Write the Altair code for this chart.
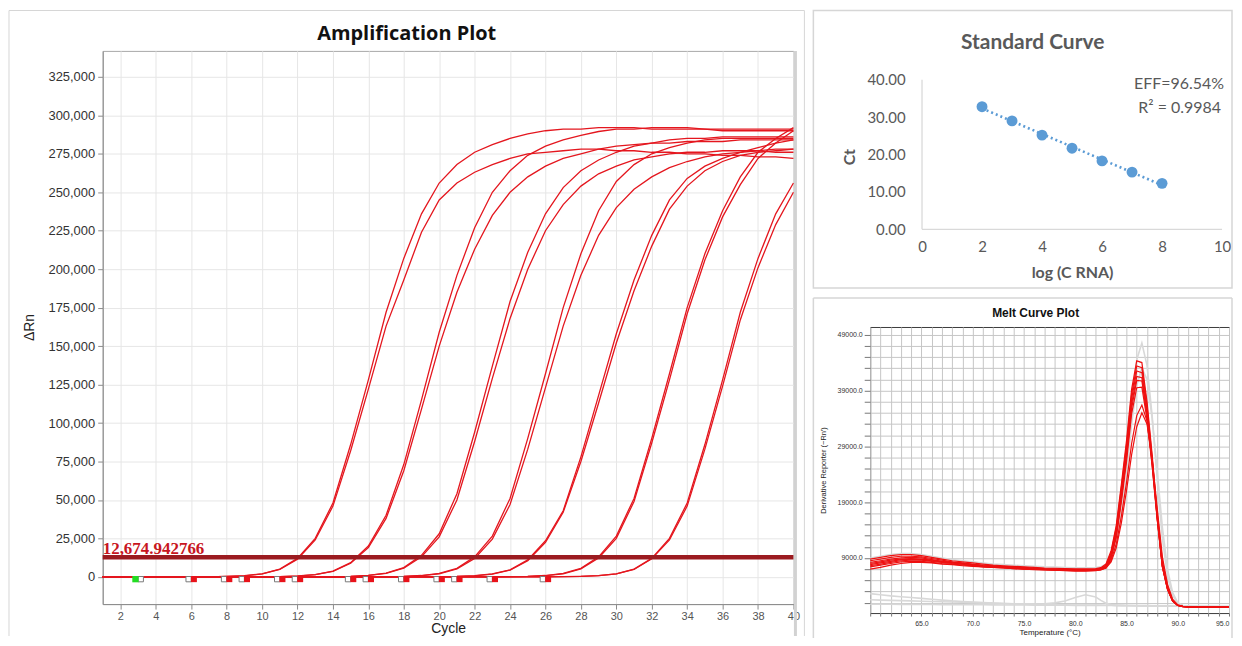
import altair as alt
import pandas as pd

# ---------------- Amplification plot: ΔRn (thousands) for cycles 1..40 ----------------
cycles = list(range(1, 41))
amp_A1 = [0, 0, 0, 0, 0, 0, 0, 0.3, 0.8, 2, 5, 12, 25, 48, 86, 128, 172, 207, 236, 256,
          268, 276, 281, 285, 288, 290, 291, 291, 292, 292, 292, 291, 291, 291, 291, 290, 290, 290, 290, 290]
amp_A2 = [0, 0, 0, 0, 0, 0, 0, 0.3, 0.7, 1.9, 4.8, 11.5, 24, 46, 82, 122, 163, 193, 224, 245,
          256, 263, 268, 272, 275, 276, 277, 278, 278, 277, 277, 276, 276, 275, 275, 274, 274, 273, 273, 272]
amp_B1 = [0, 0, 0, 0, 0, 0, 0, 0, 0, 0.1, 0.2, 0.6, 1.5, 3.8, 9.2, 20, 40, 73, 115, 159,
          196, 227, 250, 264, 274, 280, 284, 287, 289.5, 291, 291, 292, 292, 292, 291, 291, 291, 291, 291, 291]
amp_B2 = [0, 0, 0, 0, 0, 0, 0, 0, 0, 0.1, 0.2, 0.5, 1.4, 3.6, 8.8, 19, 38, 69, 109, 150,
          185, 213, 235, 250, 260, 267, 272, 275, 278, 280, 281, 282, 282, 283, 283, 283, 284, 284, 284, 284]
amp_C1 = [0, 0, 0, 0, 0, 0, 0, 0, 0, 0, 0, 0, 0, 0.1, 0.35, 0.95, 2.4, 6, 14, 28,
          54, 94, 137, 179, 211, 236, 253, 264, 271, 276, 280, 282, 284, 285, 285, 286, 286, 286, 286, 286]
amp_C2 = [0, 0, 0, 0, 0, 0, 0, 0, 0, 0, 0, 0, 0, 0.1, 0.3, 0.9, 2.2, 5.6, 13, 26,
          50, 88, 129, 168, 200, 225, 242, 254, 262, 267, 271, 273, 275, 276, 276, 277, 277, 277, 276, 276]
amp_D1 = [0, 0, 0, 0, 0, 0, 0, 0, 0, 0, 0, 0, 0, 0, 0, 0, 0.1, 0.33, 0.87, 2.2,
          5.5, 13, 26.5, 51, 90, 132, 175, 210, 238, 257, 268, 275, 279, 282, 284, 285, 285, 285, 285, 285]
amp_D2 = [0, 0, 0, 0, 0, 0, 0, 0, 0, 0, 0, 0, 0, 0, 0, 0, 0.1, 0.3, 0.8, 2.0,
          5.1, 12, 24.5, 47, 83, 123, 163, 196, 222, 240, 252, 260, 266, 270, 273, 275, 276, 277, 278, 278]
amp_E1 = [0, 0, 0, 0, 0, 0, 0, 0, 0, 0, 0, 0, 0, 0, 0, 0, 0, 0, 0, 0.1,
          0.28, 0.75, 1.9, 4.6, 11, 23.5, 43, 78, 118, 158, 193, 222, 245, 259, 267, 272, 276, 279, 282, 284]
amp_E2 = [0, 0, 0, 0, 0, 0, 0, 0, 0, 0, 0, 0, 0, 0, 0, 0, 0, 0, 0, 0.1,
          0.25, 0.7, 1.8, 4.4, 10.5, 22.5, 42, 75, 113, 152, 186, 215, 239, 254, 264, 270, 274, 276, 277, 278]
amp_F1 = [0, 0, 0, 0, 0, 0, 0, 0, 0, 0, 0, 0, 0, 0, 0, 0, 0, 0, 0, 0,
          0, 0, 0, 0.1, 0.33, 0.87, 2.2, 5.5, 13, 26.5, 51, 90, 132, 175, 210, 238, 260, 276, 285, 292]
amp_F2 = [0, 0, 0, 0, 0, 0, 0, 0, 0, 0, 0, 0, 0, 0, 0, 0, 0, 0, 0, 0,
          0, 0, 0, 0.1, 0.3, 0.8, 2.0, 5.2, 12.3, 25, 49, 87, 128, 171, 206, 234, 255, 272, 282, 290]
amp_G1 = [0, 0, 0, 0, 0, 0, 0, 0, 0, 0, 0, 0, 0, 0, 0, 0, 0, 0, 0, 0,
          0, 0, 0, 0, 0, 0, 0.1, 0.3, 0.8, 2, 5, 12, 25, 48, 86, 128, 172, 207, 236, 256]
amp_G2 = [0, 0, 0, 0, 0, 0, 0, 0, 0, 0, 0, 0, 0, 0, 0, 0, 0, 0, 0, 0,
          0, 0, 0, 0, 0, 0, 0.1, 0.3, 0.75, 1.9, 4.8, 11.7, 24, 46, 83, 124, 167, 201, 229, 250]
amp_names = ["A1", "A2", "B1", "B2", "C1", "C2", "D1", "D2", "E1", "E2", "F1", "F2", "G1", "G2"]
amp_series = [amp_A1, amp_A2, amp_B1, amp_B2, amp_C1, amp_C2, amp_D1, amp_D2,
              amp_E1, amp_E2, amp_F1, amp_F2, amp_G1, amp_G2]
threshold = 12674.942766
threshold_label = "12,674.942766"
marker_level = -1500
base_green = [2.85]
base_white = [3.15, 5.85, 7.85, 8.85, 10.85, 11.85, 14.85, 15.85, 17.85, 19.85, 20.85, 22.85, 25.85]
base_red = [6.15, 8.15, 9.15, 11.15, 12.15, 15.15, 16.15, 18.15, 20.15, 21.15, 23.15, 26.15]
amp_x_ticks = list(range(2, 41, 2))
amp_y_ticks = list(range(0, 325001, 25000))

# ---------------- Standard curve ----------------
std_logc = [2, 3, 4, 5, 6, 7, 8]
std_ct = [32.8, 29.0, 25.2, 21.7, 18.3, 15.3, 12.3]
std_x_ticks = [0, 2, 4, 6, 8, 10]
std_y_ticks = [0, 10, 20, 30, 40]

# ---------------- Melt curve ----------------
melt_temp = [60, 61, 62, 63, 64, 65, 66, 67, 68, 69, 70, 71, 72, 73, 74, 75, 76, 77, 78, 79, 80, 81, 82,
             82.5, 83, 83.5, 84, 84.5, 85, 85.5, 86, 86.5, 87, 87.5, 88, 88.5, 89, 89.5, 90, 90.5, 91,
             92, 93, 94, 95]
melt_R1 = [8800, 9100, 9400, 9600, 9600, 9400, 9100, 8800, 8500, 8300, 8100, 7900, 7700, 7600, 7500, 7400, 7300, 7200, 7150, 7100, 7050, 7050, 7100,
           7250, 7900, 10300, 14800, 22200, 30000, 39200, 44300, 44000, 37000, 27500, 16800, 7800, 3600, 1350, 520, 310, 230,
           200, 200, 200, 200]
melt_R2 = [8500, 8800, 9100, 9300, 9300, 9200, 8900, 8600, 8300, 8100, 7900, 7700, 7600, 7500, 7400, 7300, 7200, 7100, 7050, 7000, 6950, 6950, 7000,
           7150, 7700, 10000, 14400, 21600, 29200, 38300, 43400, 43100, 36300, 27000, 16500, 7700, 3500, 1300, 500, 300, 220,
           200, 200, 200, 200]
melt_R3 = [8200, 8500, 8800, 9000, 9100, 9000, 8700, 8400, 8200, 8000, 7800, 7600, 7500, 7400, 7300, 7200, 7100, 7000, 6950, 6900, 6850, 6850, 6900,
           7050, 7600, 9800, 14000, 21000, 28500, 37500, 42500, 42200, 35500, 26500, 16200, 7500, 3500, 1300, 500, 300, 220,
           200, 200, 200, 200]
melt_R4 = [7800, 8100, 8400, 8700, 8800, 8700, 8500, 8300, 8100, 7900, 7700, 7500, 7400, 7300, 7200, 7100, 7000, 6900, 6850, 6800, 6750, 6750, 6800,
           6950, 7400, 9500, 13500, 20300, 27800, 36600, 41500, 41300, 34800, 26000, 16000, 7400, 3400, 1250, 480, 290, 210,
           200, 200, 200, 200]
melt_R5 = [7400, 7700, 8000, 8300, 8400, 8400, 8200, 8000, 7900, 7700, 7600, 7400, 7300, 7200, 7100, 7000, 6950, 6900, 6800, 6750, 6700, 6700, 6750,
           6900, 7300, 9200, 13000, 19600, 27000, 35800, 40800, 40700, 34500, 25800, 16000, 7500, 3400, 1250, 480, 290, 210,
           200, 200, 200, 200]
melt_R6 = [7000, 7300, 7700, 8000, 8200, 8200, 8100, 7900, 7800, 7600, 7500, 7400, 7300, 7200, 7100, 7000, 6900, 6850, 6800, 6700, 6650, 6650, 6700,
           6850, 7200, 9000, 12600, 19000, 26200, 34800, 39500, 39600, 33800, 25500, 15800, 7400, 3400, 1250, 480, 290, 210,
           200, 200, 200, 200]
melt_R7 = [8000, 8300, 8600, 8800, 8900, 8800, 8600, 8400, 8200, 8000, 7800, 7600, 7500, 7400, 7300, 7200, 7100, 7000, 6950, 6900, 6850, 6850, 6900,
           7000, 7300, 8600, 11500, 16500, 22500, 29500, 34500, 36400, 33500, 26500, 17000, 8500, 3900, 1450, 550, 320, 230,
           200, 200, 200, 200]
melt_R8 = [7600, 7900, 8200, 8500, 8600, 8600, 8400, 8200, 8000, 7900, 7700, 7500, 7400, 7300, 7200, 7100, 7000, 6950, 6900, 6850, 6800, 6800, 6850,
           6950, 7200, 8300, 10800, 15300, 21000, 27500, 32500, 35000, 33000, 26800, 17800, 9200, 4300, 1600, 600, 340, 240,
           200, 200, 200, 200]
melt_GP1 = [9000, 9300, 9600, 9800, 9800, 9600, 9300, 9000, 8700, 8500, 8300, 8100, 7900, 7800, 7700, 7600, 7500, 7400, 7350, 7300, 7250, 7250, 7300,
            7400, 7900, 9600, 13200, 19500, 27500, 37000, 44500, 47500, 43500, 34500, 23000, 12500, 5800, 2300, 850, 420, 270,
            220, 210, 200, 200]
melt_GP2 = [8000, 8200, 8400, 8600, 8700, 8600, 8400, 8200, 8000, 7800, 7600, 7500, 7400, 7300, 7200, 7100, 7000, 6950, 6900, 6850, 6800, 6800, 6850,
            6950, 7300, 8500, 11500, 17000, 24000, 33000, 40000, 43000, 41000, 34000, 24500, 14500, 7000, 2800, 1000, 480, 290,
            230, 210, 200, 200]
melt_GF1 = [2600, 2400, 2200, 2050, 1900, 1750, 1600, 1450, 1300, 1200, 1100, 1000, 900, 850, 800, 750, 700, 650, 620, 600, 580, 560, 550,
            540, 530, 520, 510, 500, 490, 480, 470, 460, 450, 440, 430, 420, 410, 400, 390, 380, 370,
            350, 330, 310, 300]
melt_GF2 = [1500, 1450, 1400, 1350, 1300, 1250, 1200, 1150, 1100, 1050, 1000, 950, 900, 850, 800, 780, 760, 800, 950, 1300, 1900, 2400, 2000,
            1400, 900, 650, 550, 500, 470, 450, 430, 420, 410, 400, 390, 380, 370, 360, 350, 340, 330,
            310, 300, 290, 280]
melt_GF3 = [700, 700, 690, 680, 670, 660, 650, 640, 630, 620, 610, 600, 590, 580, 570, 560, 550, 540, 530, 520, 510, 500, 500,
            490, 480, 470, 460, 450, 440, 430, 420, 410, 400, 390, 380, 370, 360, 350, 340, 330, 320,
            300, 290, 280, 270]
melt_red = {"R1": melt_R1, "R2": melt_R2, "R3": melt_R3, "R4": melt_R4,
            "R5": melt_R5, "R6": melt_R6, "R7": melt_R7, "R8": melt_R8}
melt_gray = {"GF1": melt_GF1, "GF2": melt_GF2, "GF3": melt_GF3, "GP1": melt_GP1, "GP2": melt_GP2}
melt_x_ticks = list(range(60, 96))
melt_y_ticks = list(range(1000, 50000, 2000))

# ---------------- data frames ----------------
for s in amp_series:
    assert len(s) == len(cycles)
for d in (melt_red, melt_gray):
    for s in d.values():
        assert len(s) == len(melt_temp)

amp_df = pd.DataFrame([{"well": n, "cycle": c, "drn": v * 1000}
                       for n, s in zip(amp_names, amp_series) for c, v in zip(cycles, s)])
green_df = pd.DataFrame({"cycle": base_green, "drn": marker_level})
white_df = pd.DataFrame({"cycle": base_white, "drn": marker_level})
red_df = pd.DataFrame({"cycle": base_red, "drn": marker_level})
thr_df = pd.DataFrame({"cycle": [1.0], "drn": [threshold], "label": [threshold_label]})
std_df = pd.DataFrame({"logc": std_logc, "ct": std_ct})
melt_red_df = pd.DataFrame([{"curve": k, "temp": t, "deriv": v}
                            for k, s in melt_red.items() for t, v in zip(melt_temp, s)])
melt_gray_df = pd.DataFrame([{"curve": k, "temp": t, "deriv": v}
                             for k, s in melt_gray.items() for t, v in zip(melt_temp, s)])
blank = alt.InlineData(values=[{"a": 0}])

# ================= Amplification plot =================
AW, AH = 693, 555
amp_xs = alt.Scale(domain=[1, 40], nice=False, zero=False)
amp_ys = alt.Scale(domain=[-17700, 341900], nice=False, zero=False)
amp_x_axis = alt.Axis(values=amp_x_ticks, format="d", grid=True, gridColor="#e6e6e6",
                      domainColor="#8c8c8c", tickColor="#8c8c8c", tickSize=5,
                      labelFont="Liberation Sans", labelFontSize=11, labelColor="#555555",
                      labelPadding=1, labelFlush=False, labelOverlap=False,
                      title="Cycle", titleFont="Liberation Sans", titleFontSize=14,
                      titleFontWeight="normal", titleColor="#222222", titleY=29,
                      titleBaseline="alphabetic")
amp_y_axis = alt.Axis(values=amp_y_ticks, labelExpr="format(datum.value, ',')",
                      grid=True, gridColor="#e6e6e6",
                      domainColor="#8c8c8c", tickColor="#8c8c8c", tickSize=5,
                      labelFont="Liberation Sans", labelFontSize=13, labelColor="#333333",
                      labelPadding=3, labelOverlap=False,
                      title="ΔRn", titleFont="Liberation Sans", titleFontSize=14,
                      titleFontWeight="normal", titleColor="#222222", titleX=-66, titleY=277)
AXX = alt.X("cycle:Q", scale=amp_xs, axis=amp_x_axis)
AXY = alt.Y("drn:Q", scale=amp_ys, axis=amp_y_axis)

BC = "#d6d6d6"
left_top = alt.Chart(blank).mark_rule(color=BC, strokeWidth=1).encode(
    x=alt.value(-94), x2=alt.value(704), y=alt.value(-40.5))
left_l = alt.Chart(blank).mark_rule(color=BC, strokeWidth=1).encode(
    x=alt.value(-94), y=alt.value(-40.5), y2=alt.value(587))
left_r = alt.Chart(blank).mark_rule(color=BC, strokeWidth=1).encode(
    x=alt.value(704), y=alt.value(-40.5), y2=alt.value(587))
amp_lines = alt.Chart(amp_df).mark_line(color="#e4161e", strokeWidth=1.3).encode(
    x=AXX, y=AXY, detail="well:N")
thr_rule = alt.Chart(thr_df).mark_rule(color="#9b1b20", strokeWidth=4.5).encode(y=AXY)
thr_text = alt.Chart(thr_df).mark_text(
    align="left", baseline="alphabetic", dy=-3, font="Liberation Serif", fontSize=17,
    fontWeight="bold", color="#c8161e").encode(x=alt.value(0), y=AXY, text="label:N")
mk_white = alt.Chart(white_df).mark_square(size=28, filled=True, fill="white", stroke="#7a7a7a",
                                           strokeWidth=1, opacity=1).encode(x=AXX, y=AXY)
mk_red = alt.Chart(red_df).mark_square(size=36, filled=True, color="#e8121a", opacity=1).encode(
    x=AXX, y=AXY)
mk_green = alt.Chart(green_df).mark_square(size=40, filled=True, color="#22dd22", opacity=1).encode(
    x=AXX, y=AXY)
amp_title = alt.Chart(blank).mark_text(
    align="center", baseline="middle", font="Open Sans", fontSize=20, fontWeight="bold",
    color="#111111").encode(x=alt.value(305), y=alt.value(-17), text=alt.value("Amplification Plot"))
right_edge = alt.Chart(blank).mark_rule(color="#d2d2d2", strokeWidth=3).encode(
    x=alt.value(695), y=alt.value(0), y2=alt.value(587))

left = alt.layer(left_top, left_l, left_r, amp_lines, thr_rule, thr_text, mk_white, mk_red,
                 mk_green, amp_title, right_edge).properties(
    width=AW, height=AH, view=alt.ViewBackground(stroke="#a8a8a8"))

# ================= Standard curve =================
SW, SH = 353, 179
std_xs = alt.Scale(domain=[-1.7276, 10], nice=False, zero=False)
std_ys = alt.Scale(domain=[0, 47.733], nice=False, zero=False)
std_x_axis = alt.Axis(values=std_x_ticks, format="d", domain=False, ticks=False, grid=False,
                      labelFont="Lato", labelFontSize=15, labelColor="#595959", labelPadding=10,
                      labelFlush=False, labelOverlap=False,
                      title="log (C RNA)", titleFont="Lato", titleFontSize=16, titleFontWeight="bold",
                      titleColor="#595959", titleX=202.5, titleY=48, titleBaseline="alphabetic")
std_y_axis = alt.Axis(values=std_y_ticks, format=".2f", domain=False, ticks=False, grid=False,
                      offset=-52, labelFont="Lato", labelFontSize=15, labelColor="#595959",
                      labelPadding=17, labelOverlap=False,
                      title="Ct", titleFont="Lato", titleFontSize=16, titleFontWeight="bold",
                      titleColor="#595959", titleX=-65, titleY=106)

std_border = alt.Chart(blank).mark_rect(fillOpacity=0, stroke="#d6d6d6", strokeWidth=1.5).encode(
    x=alt.value(-57), x2=alt.value(363), y=alt.value(-40.5), y2=alt.value(238))
std_xline = alt.Chart(blank).mark_rule(color="#d9d9d9", strokeWidth=1.3).encode(
    x=alt.datum(0), x2=alt.datum(10), y=alt.datum(0))
std_yline = alt.Chart(blank).mark_rule(color="#d9d9d9", strokeWidth=1.3).encode(
    x=alt.datum(0), y=alt.datum(0), y2=alt.datum(40))
std_trend = alt.Chart(std_df).transform_regression("logc", "ct").mark_line(
    color="#5b9bd5", strokeDash=[2, 3], strokeWidth=2.6).encode(
    x=alt.X("logc:Q", scale=std_xs, axis=std_x_axis),
    y=alt.Y("ct:Q", scale=std_ys, axis=std_y_axis))
std_pts = alt.Chart(std_df).mark_circle(size=120, color="#5b9bd5", opacity=1).encode(
    x=alt.X("logc:Q", scale=std_xs, axis=std_x_axis),
    y=alt.Y("ct:Q", scale=std_ys, axis=std_y_axis))
std_title = alt.Chart(blank).mark_text(
    align="center", baseline="middle", font="Lato", fontSize=21, fontWeight="bold",
    color="#595959").encode(x=alt.value(163), y=alt.value(-8), text=alt.value("Standard Curve"))
std_eff = alt.Chart(blank).mark_text(
    align="right", baseline="middle", font="Lato", fontSize=16, color="#595959").encode(
    x=alt.value(355), y=alt.value(33), text=alt.value("EFF=96.54%"))
std_r2 = alt.Chart(blank).mark_text(
    align="right", baseline="middle", font="Lato", fontSize=16, color="#595959").encode(
    x=alt.value(352), y=alt.value(57), text=alt.value("R² = 0.9984"))

std = alt.layer(std_border, std_xline, std_yline, std_trend, std_pts, std_title, std_eff,
                std_r2).properties(width=SW, height=SH,
                                   view=alt.ViewBackground(strokeOpacity=0))

# ================= Melt curve =================
MW, MH = 360, 287
melt_xs = alt.Scale(domain=[60, 95], nice=False, zero=False)
melt_ys = alt.Scale(domain=[-875, 50375], nice=False, zero=False)
melt_x_axis = alt.Axis(values=melt_x_ticks,
                       labelExpr="datum.value % 5 == 0 && datum.value > 60 ? format(datum.value, '.1f') : ''",
                       grid=True, gridColor="#c6c6c6", domain=False, tickColor="#777777", tickSize=3,
                       labelFont="Liberation Sans", labelFontSize=7, labelColor="#333333",
                       labelPadding=3, labelFlush=True, labelOverlap=False,
                       title="Temperature (°C)", titleFont="Liberation Sans", titleFontSize=8,
                       titleFontWeight="normal", titleColor="#222222", titleY=22,
                       titleBaseline="alphabetic")
melt_y_axis = alt.Axis(values=melt_y_ticks,
                       labelExpr="(datum.value - 9000) % 10000 == 0 ? format(datum.value, '.1f') : ''",
                       grid=True, gridColor="#c6c6c6", domain=False, tickColor="#777777", tickSize=6,
                       labelFont="Liberation Sans", labelFontSize=7, labelColor="#333333",
                       labelPadding=2, labelOverlap=False,
                       title="Derivative Reporter (−Rn′)", titleFont="Liberation Sans",
                       titleFontSize=7.5, titleFontWeight="normal", titleColor="#222222",
                       titleX=-43)

melt_top = alt.Chart(blank).mark_rule(color=BC, strokeWidth=1.5).encode(
    x=alt.value(-57), x2=alt.value(363), y=alt.value(-29))
melt_l = alt.Chart(blank).mark_rule(color=BC, strokeWidth=1.5).encode(
    x=alt.value(-57), y=alt.value(-29), y2=alt.value(312))
melt_r = alt.Chart(blank).mark_rule(color=BC, strokeWidth=1.5).encode(
    x=alt.value(363), y=alt.value(-29), y2=alt.value(312))
melt_gray_lines = alt.Chart(melt_gray_df).mark_line(color="#d8d8d8", strokeWidth=1.6).encode(
    x=alt.X("temp:Q", scale=melt_xs, axis=melt_x_axis),
    y=alt.Y("deriv:Q", scale=melt_ys, axis=melt_y_axis),
    detail="curve:N")
melt_red_lines = alt.Chart(melt_red_df).mark_line(color="#ee1111", strokeWidth=1.2).encode(
    x=alt.X("temp:Q", scale=melt_xs, axis=melt_x_axis),
    y=alt.Y("deriv:Q", scale=melt_ys, axis=melt_y_axis),
    detail="curve:N")
melt_title = alt.Chart(blank).mark_text(
    align="center", baseline="middle", font="Liberation Sans", fontSize=12, fontWeight="bold",
    color="#111111").encode(x=alt.value(166), y=alt.value(-14), text=alt.value("Melt Curve Plot"))

melt = alt.layer(melt_top, melt_l, melt_r, melt_gray_lines, melt_red_lines, melt_title).properties(
    width=MW, height=MH, view=alt.ViewBackground(stroke="#3c3c3c"))

right = alt.vconcat(std, melt, spacing=7)
chart = alt.hconcat(left, right, spacing=6).properties(padding=0, background="white")

chart.save("out.html", embed_options={"renderer": "svg", "actions": False})
